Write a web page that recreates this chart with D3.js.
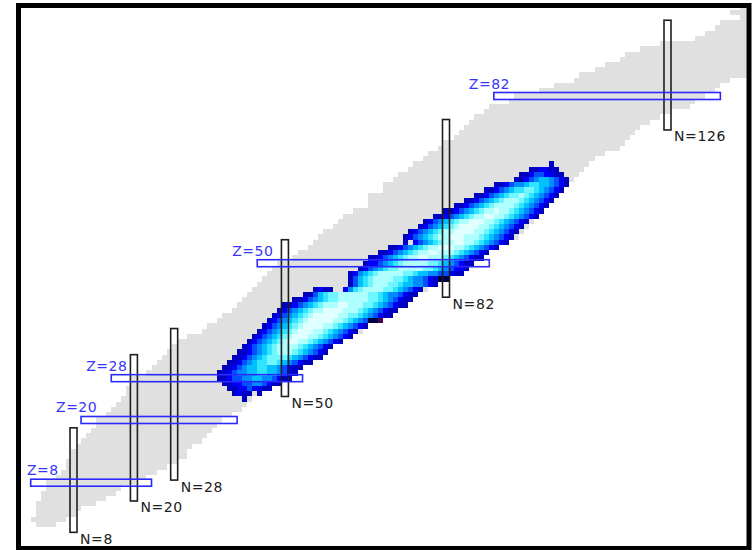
<!DOCTYPE html>
<html>
<head>
<meta charset="utf-8">
<script src="https://cdn.jsdelivr.net/npm/d3@7"></script>
<style>
  body { margin: 0; background: #fff; }
  svg { display: block; }
  text { font-family: "DejaVu Sans", Verdana, sans-serif; font-size: 14px; }
</style>
</head>
<body>
<svg id="chart" width="754" height="550"></svg>
<script>
// Known nuclides: for proton number Z (array index) the lightest and heaviest neutron number N
const knownNMin = [1, 0, 1, 1, 1, 2, 2, 3, 3, 5, 6, 7, 7, 8, 8, 9, 10, 11, 12, 13,
  13, 15, 16, 17, 18, 19, 19, 20, 20, 23, 24, 25, 26, 27, 28, 29, 31, 34, 35, 37,
  38, 40, 41, 42, 43, 44, 45, 46, 47, 48, 49, 52, 53, 55, 56, 57, 58, 60, 61, 62,
  64, 67, 67, 67, 70, 70, 72, 73, 75, 76, 78, 79, 81, 82, 84, 85, 86, 87, 88, 90,
  91, 95, 96, 101, 104, 108, 109, 112, 114, 117, 118, 121, 125, 132, 134, 136, 137, 141, 139, 141, 142];
const knownNMax = [4, 6, 8, 9, 12, 14, 16, 17, 20, 22, 24, 26, 28, 30, 30, 31, 33, 34, 35, 36,
  37, 39, 41, 42, 43, 44, 46, 48, 50, 51, 52, 53, 54, 56, 58, 59, 61, 65, 66, 69,
  70, 72, 73, 75, 76, 78, 79, 81, 83, 85, 87, 88, 90, 91, 93, 96, 97, 98, 99, 100,
  101, 102, 103, 104, 105, 106, 107, 108, 109, 110, 111, 113, 116, 117, 118, 119, 120, 122, 124, 126,
  130, 131, 133, 135, 136, 138, 142, 145, 146, 147, 148, 148, 150, 151, 153, 152, 155, 154, 158, 157, 159];

// Fragment yields: one row per Z, first N of the row, then one level code per N
// (1 = lowest .. 9 = highest, k / p = separately marked cells, "." = no entry)
const yieldZ = [69, 68, 67, 66, 65, 64, 63, 62, 61, 60, 59, 58, 57, 56, 55, 54, 53, 52, 51, 50,
  49, 48, 47, 46, 45, 44, 43, 42, 41, 40, 39, 38, 37, 36, 35, 34, 33, 32, 31, 30,
  29, 28, 27, 26, 25, 24];
const yieldStartN = [103, 99, 97, 96, 92, 90, 88, 86, 84, 82, 80, 78, 77, 75, 74, 74, 71, 69, 67, 66,
  65, 63, 63, 63, 56, 54, 52, 50, 49, 48, 47, 46, 45, 44, 43, 42, 41, 40, 39, 38,
  37, 37, 38, 39, 40, 42];
const yieldLevels = [
  "1",
  "112211",
  "112332211",
  "11234554321",
  "112344566554321",
  "1123456677654321",
  "11234567787654321",
  "112345678887654321",
  "1123456788887654321",
  "11234567889887654321",
  "112345678899887654321",
  "123456788999887654321",
  "123456789999887654321",
  "1234567889999887654321",
  "1234567889998887654321",
  "1.2345678899887654321",
  "1123456788999887654321",
  "1123456788998887654321",
  "11234567889988876543211",
  "1223456788888776543211",
  "1234567788888776543221",
  "12456788888776554433211",
  "135678888776544321kk",
  "135678887765544321",
  "1211..2467888877654321",
  "11356778888887765443211",
  "112345677888888776543211",
  "1123456788899888776543211",
  "123456788999988876543211",
  "123456789999988776543211",
  "12345678999998876543kkp",
  "123456789999887654321",
  "12345678999887654321",
  "12345678999887654321",
  "1234567899887654321",
  "123456788887654321",
  "112345678887654321",
  "112345677776543211",
  "11234566776543211",
  "1123455665543211",
  "1123445566554321",
  "112334455443211",
  "112233443211",
  "112232211",
  "1211.1",
  "1"
];

// Magic proton numbers: horizontal guides spanning N from..to
const magicZ = [8, 20, 28, 50, 82];
const magicZFromN = [-0.5, 9.5, 15.5, 44.5, 91.5];
const magicZToN = [23.5, 40.5, 53.5, 90.6, 136.5];

// Magic neutron numbers: vertical guides spanning Z from..to
const magicN = [8, 20, 28, 50, 82, 126];
const magicNFromZ = [-1.5, 4.5, 8.5, 24.5, 43.5, 75.5];
const magicNToZ = [18.5, 32.5, 37.5, 54.5, 77.5, 96.5];

const levelColor = {
  "1": "#0000c0", "2": "#0000fa", "3": "#0050ff", "4": "#008cff", "5": "#00c0ff",
  "6": "#30e4ff", "7": "#70f6ff", "8": "#b0ffff", "9": "#e0ffff",
  "k": "#000044", "p": "#4c0048"
};

const svg = d3.select("#chart");

// N runs left to right, Z bottom to top
const x = d3.scaleLinear().domain([8, 126]).range([73.5, 667.5]);
const y = d3.scaleLinear().domain([8, 82]).range([482.7, 96]);

svg.append("defs").append("clipPath").attr("id", "inner")
  .append("rect").attr("x", 21).attr("y", 8).attr("width", 725.5).attr("height", 538);

const plot = svg.append("g").attr("clip-path", "url(#inner)");

// known nuclides, one strip per Z
const known = knownNMin.map((lo, z) => ({ z, lo, hi: knownNMax[z] }));
plot.append("g").attr("shape-rendering", "crispEdges")
  .selectAll("rect").data(known).join("rect")
  .attr("x", d => x(d.lo - 0.5))
  .attr("width", d => x(d.hi + 0.5) - x(d.lo - 0.5))
  .attr("y", d => y(d.z + 0.5))
  .attr("height", d => y(d.z - 0.5) - y(d.z + 0.5))
  .attr("fill", "#e0e0e0");

// yield cells
const cells = [];
yieldZ.forEach((z, i) => {
  Array.from(yieldLevels[i]).forEach((c, j) => {
    if (c !== ".") cells.push({ z, n: yieldStartN[i] + j, c });
  });
});
plot.append("g").attr("shape-rendering", "crispEdges")
  .selectAll("rect").data(cells).join("rect")
  .attr("x", d => x(d.n - 0.5))
  .attr("width", d => x(d.n + 0.5) - x(d.n - 0.5))
  .attr("y", d => y(d.z + 0.5))
  .attr("height", d => y(d.z - 0.5) - y(d.z + 0.5))
  .attr("fill", d => levelColor[d.c]);

// magic-number guides
const zGuides = magicZ.map((z, i) => ({ z, from: magicZFromN[i], to: magicZToN[i] }));
const nGuides = magicN.map((n, i) => ({ n, from: magicNFromZ[i], to: magicNToZ[i] }));

plot.append("g").selectAll("rect").data(nGuides).join("rect")
  .attr("x", d => x(d.n) - 3.5)
  .attr("width", 7)
  .attr("y", d => y(d.to))
  .attr("height", d => y(d.from) - y(d.to))
  .attr("fill", "none")
  .attr("stroke", "#1e1e1e")
  .attr("stroke-width", 1.6);

plot.append("g").selectAll("rect").data(zGuides).join("rect")
  .attr("x", d => x(d.from))
  .attr("width", d => x(d.to) - x(d.from))
  .attr("y", d => y(d.z) - 3.5)
  .attr("height", 7)
  .attr("fill", "none")
  .attr("stroke", "#2a2aff")
  .attr("stroke-width", 1.6);

plot.append("g").selectAll("text").data(zGuides).join("text")
  .attr("x", d => Math.max(x(d.from) - 25, 27))
  .attr("y", d => y(d.z) - 7.5)
  .attr("fill", "#3535ff")
  .attr("letter-spacing", "0.5px")
  .text(d => "Z=" + d.z);

plot.append("g").selectAll("text").data(nGuides).join("text")
  .attr("x", d => x(d.n) + 6.5)
  .attr("y", d => y(d.from) + 11.5)
  .attr("fill", "#202020")
  .attr("letter-spacing", "0.6px")
  .text(d => "N=" + d.n);

// frame
svg.append("rect")
  .attr("x", 18.5).attr("y", 5.5)
  .attr("width", 730.5).attr("height", 543)
  .attr("fill", "none")
  .attr("stroke", "#000")
  .attr("stroke-width", 5);
</script>
</body>
</html>
